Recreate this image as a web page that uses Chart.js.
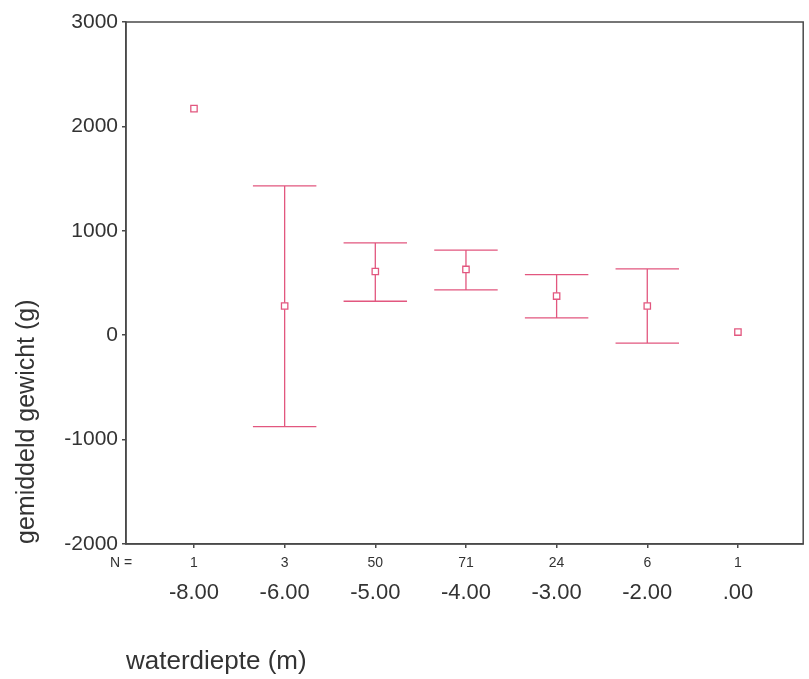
<!DOCTYPE html>
<html>
<head>
<meta charset="utf-8">
<script src="https://cdn.jsdelivr.net/npm/chart.js@4.4.0/dist/chart.umd.min.js"></script>
<style>
  html, body { margin: 0; padding: 0; background: #fff; }
  #wrap { width: 809px; height: 679px; }
</style>
</head>
<body>
<div id="wrap"><canvas id="chartErr"></canvas></div>
<script>
// waterdiepte categorieen en aantallen (N)
var categories = ['-8.00', '-6.00', '-5.00', '-4.00', '-3.00', '-2.00', '.00'];
var counts = [1, 3, 50, 71, 24, 6, 1];
// gemiddeld gewicht en grenzen van de foutbalk (null = geen balk)
var means = [2170, 280, 610, 630, 375, 280, 30];
var lower = [null, -875, 325, 435, 165, -75, null];
var upper = [null, 1430, 885, 815, 580, 635, null];
var yTicks = [-2000, -1000, 0, 1000, 2000, 3000];

var pink = '#e2577f';
var axisColor = '#4a4a4a';
var fontFam = '"Liberation Sans", Arial, sans-serif';

var errorBars = {
    id: 'errorBars',
    beforeDatasetsDraw: function (chart) {
        var ctx = chart.ctx;
        var xs = chart.scales.x, ys = chart.scales.y;
        var a = chart.chartArea;
        // kader rond plotgebied
        ctx.save();
        ctx.strokeStyle = axisColor;
        ctx.lineWidth = 1.5;
        ctx.strokeRect(a.left, a.top, a.right - a.left, a.bottom - a.top);

        ctx.strokeStyle = pink;
        ctx.lineWidth = 1.3;
        for (var i = 0; i < means.length; i++) {
            if (lower[i] === null) continue;
            var x = xs.getPixelForValue(i);
            var x0 = xs.getPixelForValue(i - 0.35);
            var x1 = xs.getPixelForValue(i + 0.35);
            var yl = ys.getPixelForValue(lower[i]);
            var yu = ys.getPixelForValue(upper[i]);
            ctx.beginPath();
            ctx.moveTo(x, yu); ctx.lineTo(x, yl);
            ctx.moveTo(x0, yu); ctx.lineTo(x1, yu);
            ctx.moveTo(x0, yl); ctx.lineTo(x1, yl);
            ctx.stroke();
        }

        // rij met N =
        ctx.fillStyle = '#333';
        ctx.font = '14px ' + fontFam;
        ctx.textBaseline = 'middle';
        var yN = a.bottom + 19;
        ctx.textAlign = 'left';
        ctx.fillText('N =', 110, yN);
        ctx.textAlign = 'center';
        for (var j = 0; j < counts.length; j++) {
            ctx.fillText(String(counts[j]), xs.getPixelForValue(j), yN);
        }
        ctx.restore();
    }
};

var chartInstance = new Chart(document.getElementById('chartErr'), {
    type: 'scatter',
    data: {
        datasets: [{
            data: means.map(function (m, i) { return { x: i, y: m }; }),
            pointStyle: 'rect',
            radius: 4.5,
            borderColor: pink,
            backgroundColor: '#fff',
            borderWidth: 1.3
        }]
    },
    options: {
        responsive: true,
        maintainAspectRatio: false,
        animation: false,
        layout: { padding: { top: 22, right: -6, left: 0, bottom: 1.4 } },
        plugins: {
            legend: { display: false },
            tooltip: { enabled: false }
        },
        scales: {
            x: {
                type: 'linear',
                min: -0.75,
                max: 6.72,
                afterBuildTicks: function (scale) {
                    scale.ticks = categories.map(function (c, i) { return { value: i }; });
                },
                ticks: {
                    autoSkip: false,
                    maxRotation: 0,
                    padding: 32,
                    color: '#333',
                    font: { family: fontFam, size: 22 },
                    callback: function (v) { return categories[v]; }
                },
                grid: { display: true, drawOnChartArea: false, tickLength: 4, color: axisColor, lineWidth: 1.5 },
                border: { display: true, color: axisColor, width: 1.5 },
                title: {
                    display: true,
                    text: 'waterdiepte (m)',
                    align: 'start',
                    color: '#333',
                    font: { family: fontFam, size: 26 },
                    padding: { top: 8, bottom: 0 }
                }
            },
            y: {
                min: -2000,
                max: 3000,
                afterBuildTicks: function (scale) {
                    scale.ticks = yTicks.map(function (v) { return { value: v }; });
                },
                afterFit: function (scale) { scale.width = 126; },
                ticks: {
                    padding: 4,
                    color: '#333',
                    font: { family: fontFam, size: 21 },
                    callback: function (v) { return String(v); }
                },
                grid: { display: true, drawOnChartArea: false, tickLength: 4, color: axisColor, lineWidth: 1.5 },
                border: { display: true, color: axisColor, width: 1.5 },
                title: {
                    display: true,
                    text: 'gemiddeld gewicht (g)',
                    align: 'start',
                    color: '#333',
                    font: { family: fontFam, size: 25 },
                    padding: { top: 12, bottom: 0 }
                }
            }
        }
    },
    plugins: [errorBars]
});
</script>
</body>
</html>
